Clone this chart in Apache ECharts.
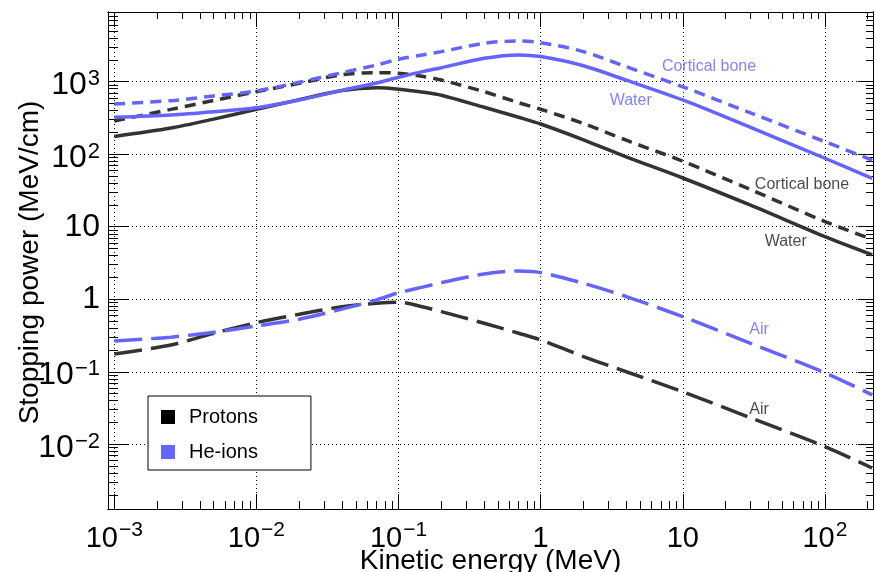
<!DOCTYPE html>
<html><head><meta charset="utf-8">
<script src="https://cdn.jsdelivr.net/npm/echarts@6/dist/echarts.min.js"></script>
<style>html,body{margin:0;padding:0;background:#fff}#c{width:875px;height:572px}</style>
</head><body><div id="c"></div>
<script>
// ---- data (kinetic energy in MeV, stopping power in MeV/cm) ----
const energy      = [0.001, 0.0025, 0.005, 0.01, 0.02, 0.04, 0.07, 0.1, 0.15, 0.2, 0.4, 0.7, 1, 2, 4, 10, 30, 100, 215];
const protonWater = [176, 230, 305, 415, 566, 755, 825, 790, 715, 650, 444, 323, 261, 158, 92, 47, 19.8, 7.3, 4.1];
const protonBone  = [288, 415, 551, 729, 950, 1250, 1333, 1307, 1180, 1056, 729, 514, 417, 265, 156, 80, 32.5, 11.8, 6.7];
const protonAir   = [0.176, 0.234, 0.34, 0.476, 0.62, 0.79, 0.88, 0.91, 0.78, 0.675, 0.467, 0.34, 0.275, 0.162, 0.1, 0.053, 0.0231, 0.0093, 0.0047];
const heWater     = [323, 348, 386, 438, 560, 760, 960, 1150, 1390, 1560, 2100, 2340, 2220, 1660, 1050, 560, 234, 88, 46.6];
const heBone      = [493, 548, 636, 745, 982, 1333, 1700, 2040, 2350, 2600, 3390, 3650, 3450, 2600, 1610, 850, 371, 149, 83];
const heAir       = [0.266, 0.30, 0.351, 0.428, 0.53, 0.73, 0.98, 1.23, 1.48, 1.69, 2.23, 2.45, 2.33, 1.66, 1.09, 0.575, 0.247, 0.097, 0.048];

const curveLabels  = ['Cortical bone', 'Water', 'Cortical bone', 'Water', 'Air', 'Air'];
const curveLabelE  = [15.3, 4.3, 69, 53, 34.4, 34.4];
const curveLabelS  = [1600, 542, 37.7, 6.17, 0.377, 0.0298];
const curveLabelHe = [true, true, false, false, true, false];

const xMajor = [1e-3, 1e-2, 1e-1, 1, 10, 100];
const yMajor = [1e-2, 1e-1, 1, 10, 100, 1000];
const xRange = [9.03e-4, 218];
const yRange = [1.28e-3, 9150];

// ---- helpers ----
const BLACK = '#333333', BLUE = '#6464ff', LABEL_BLACK = '#1a1a1a';
const FONT = 'Liberation Sans, Arial, Helvetica, sans-serif';
function minorTicks(lo, hi) {
  const out = [];
  for (let e = Math.floor(Math.log10(lo)); e <= Math.ceil(Math.log10(hi)); e++) {
    for (let k = 2; k <= 9; k++) { const v = k * Math.pow(10, e); if (v >= lo && v <= hi) out.push(+v.toPrecision(3)); }
  }
  return out;
}
const xMinor = minorTicks(xRange[0], xRange[1]);
const yMinor = minorTicks(yRange[0], yRange[1]);

function fmt(v) {
  const e = Math.round(Math.log10(v));
  if (e === 0) return '{p|1}';
  if (e === 1) return '{p|10}';
  return '{b|10}{s|' + (e < 0 ? '\u2212' : '') + Math.abs(e) + '}';
}
const pairs = arr => energy.map((x, i) => [x, arr[i]]);

function axis(kind, pos, ticks, len, opts) {
  const range = kind === 'x' ? xRange : yRange;
  return Object.assign({
    type: 'log', logBase: 10, position: pos, min: range[0], max: range[1],
    axisLine: { show: true, onZero: false, lineStyle: { color: '#000', width: 1 } },
    axisTick: { show: true, inside: true, length: len, customValues: ticks, lineStyle: { color: '#000', width: 1 } },
    axisLabel: { show: false },
    splitLine: { show: false },
    minorTick: { show: false }, minorSplitLine: { show: false }
  }, opts || {});
}

const gridLine = { show: true, lineStyle: { color: '#000', width: 1, type: [1, 3] } };

const xAxes = [
  axis('x', 'bottom', xMajor, 15, {
    splitLine: gridLine,
    axisLabel: {
      show: true, customValues: xMajor, formatter: fmt, margin: 11, color: '#000',
      rich: {
        p: { fontFamily: FONT, fontSize: 29, color: '#000', padding: [4, 0, 0, 0], verticalAlign: 'top' },
        b: { fontFamily: FONT, fontSize: 29, color: '#000', padding: [4, 0, 0, 0], verticalAlign: 'top' },
        s: { fontFamily: FONT, fontSize: 21, color: '#000', padding: [0, 0, 0, 1], verticalAlign: 'top' }
      }
    },
    name: 'Kinetic energy (MeV)', nameLocation: 'middle', nameGap: 38, nameMoveOverlap: false,
    nameTextStyle: { fontFamily: FONT, fontSize: 28, color: '#000' }
  }),
  axis('x', 'bottom', xMinor, 8),
  axis('x', 'top', xMajor, 15),
  axis('x', 'top', xMinor, 7)
];
const yAxes = [
  axis('y', 'left', yMajor, 20, {
    splitLine: gridLine,
    axisLabel: {
      show: true, customValues: yMajor, formatter: fmt, margin: 8, color: '#000',
      rich: {
        p: { fontFamily: FONT, fontSize: 32, color: '#000' },
        b: { fontFamily: FONT, fontSize: 32, color: '#000', padding: [7, 0, 0, 0], verticalAlign: 'top' },
        s: { fontFamily: FONT, fontSize: 22, color: '#000', padding: [6, 0, 0, 1], verticalAlign: 'top' }
      }
    },
    name: 'Stopping power (MeV/cm)', nameLocation: 'middle', nameGap: 64, nameMoveOverlap: false,
    nameTextStyle: { fontFamily: FONT, fontSize: 28, color: '#000', padding: [0, 4, 0, 0] }
  }),
  axis('y', 'left', yMinor, 10),
  axis('y', 'right', yMajor, 15),
  axis('y', 'right', yMinor, 7)
];

function curve(name, data, color, dash) {
  return {
    type: 'line', name: name, data: pairs(data), color: color,
    smooth: 0.3, showSymbol: false, symbol: 'none', silent: true,
    lineStyle: { color: color, width: 3.5, type: dash, cap: 'butt' }
  };
}
const SOLID = 'solid', SHORT = [11, 7], LONG = [28, 9];

const labelSeries = {
  type: 'scatter', name: 'labels', silent: true, symbolSize: 0,
  data: curveLabels.map((t, i) => ({
    value: [curveLabelE[i], curveLabelS[i]], name: t,
    label: { color: curveLabelHe[i] ? BLUE : LABEL_BLACK }
  })),
  label: { show: true, position: 'inside', formatter: p => p.name, fontFamily: FONT, fontSize: 16 },
  z: 5
};

const chart = echarts.init(document.getElementById('c'), null, { renderer: 'canvas' });
chart.setOption({
  animation: false,
  backgroundColor: '#fff',
  grid: { left: 108, right: 2, top: 12, bottom: 63, containLabel: false, outerBoundsMode: 'none' },
  xAxis: xAxes,
  yAxis: yAxes,
  legend: {
    orient: 'vertical', left: 148, top: 396,
    icon: 'rect', itemWidth: 14, itemHeight: 14, itemGap: 15, itemTextGap: 14,
    padding: [11, 53, 8, 13],
    backgroundColor: '#fff', borderColor: '#000', borderWidth: 1, borderRadius: 0,
    textStyle: { fontFamily: FONT, fontSize: 20, color: '#000', padding: [0, 0, 0, 9] },
    data: [{ name: 'Protons', itemStyle: { color: '#000' } }, { name: 'He-ions', itemStyle: { color: BLUE } }],
    selectedMode: false
  },
  series: [
    curve('Protons', protonWater, BLACK, SOLID),
    curve('Protons', protonBone, BLACK, SHORT),
    curve('Protons', protonAir, BLACK, LONG),
    curve('He-ions', heWater, BLUE, SOLID),
    curve('He-ions', heBone, BLUE, SHORT),
    curve('He-ions', heAir, BLUE, LONG),
    labelSeries
  ]
});
</script></body></html>
